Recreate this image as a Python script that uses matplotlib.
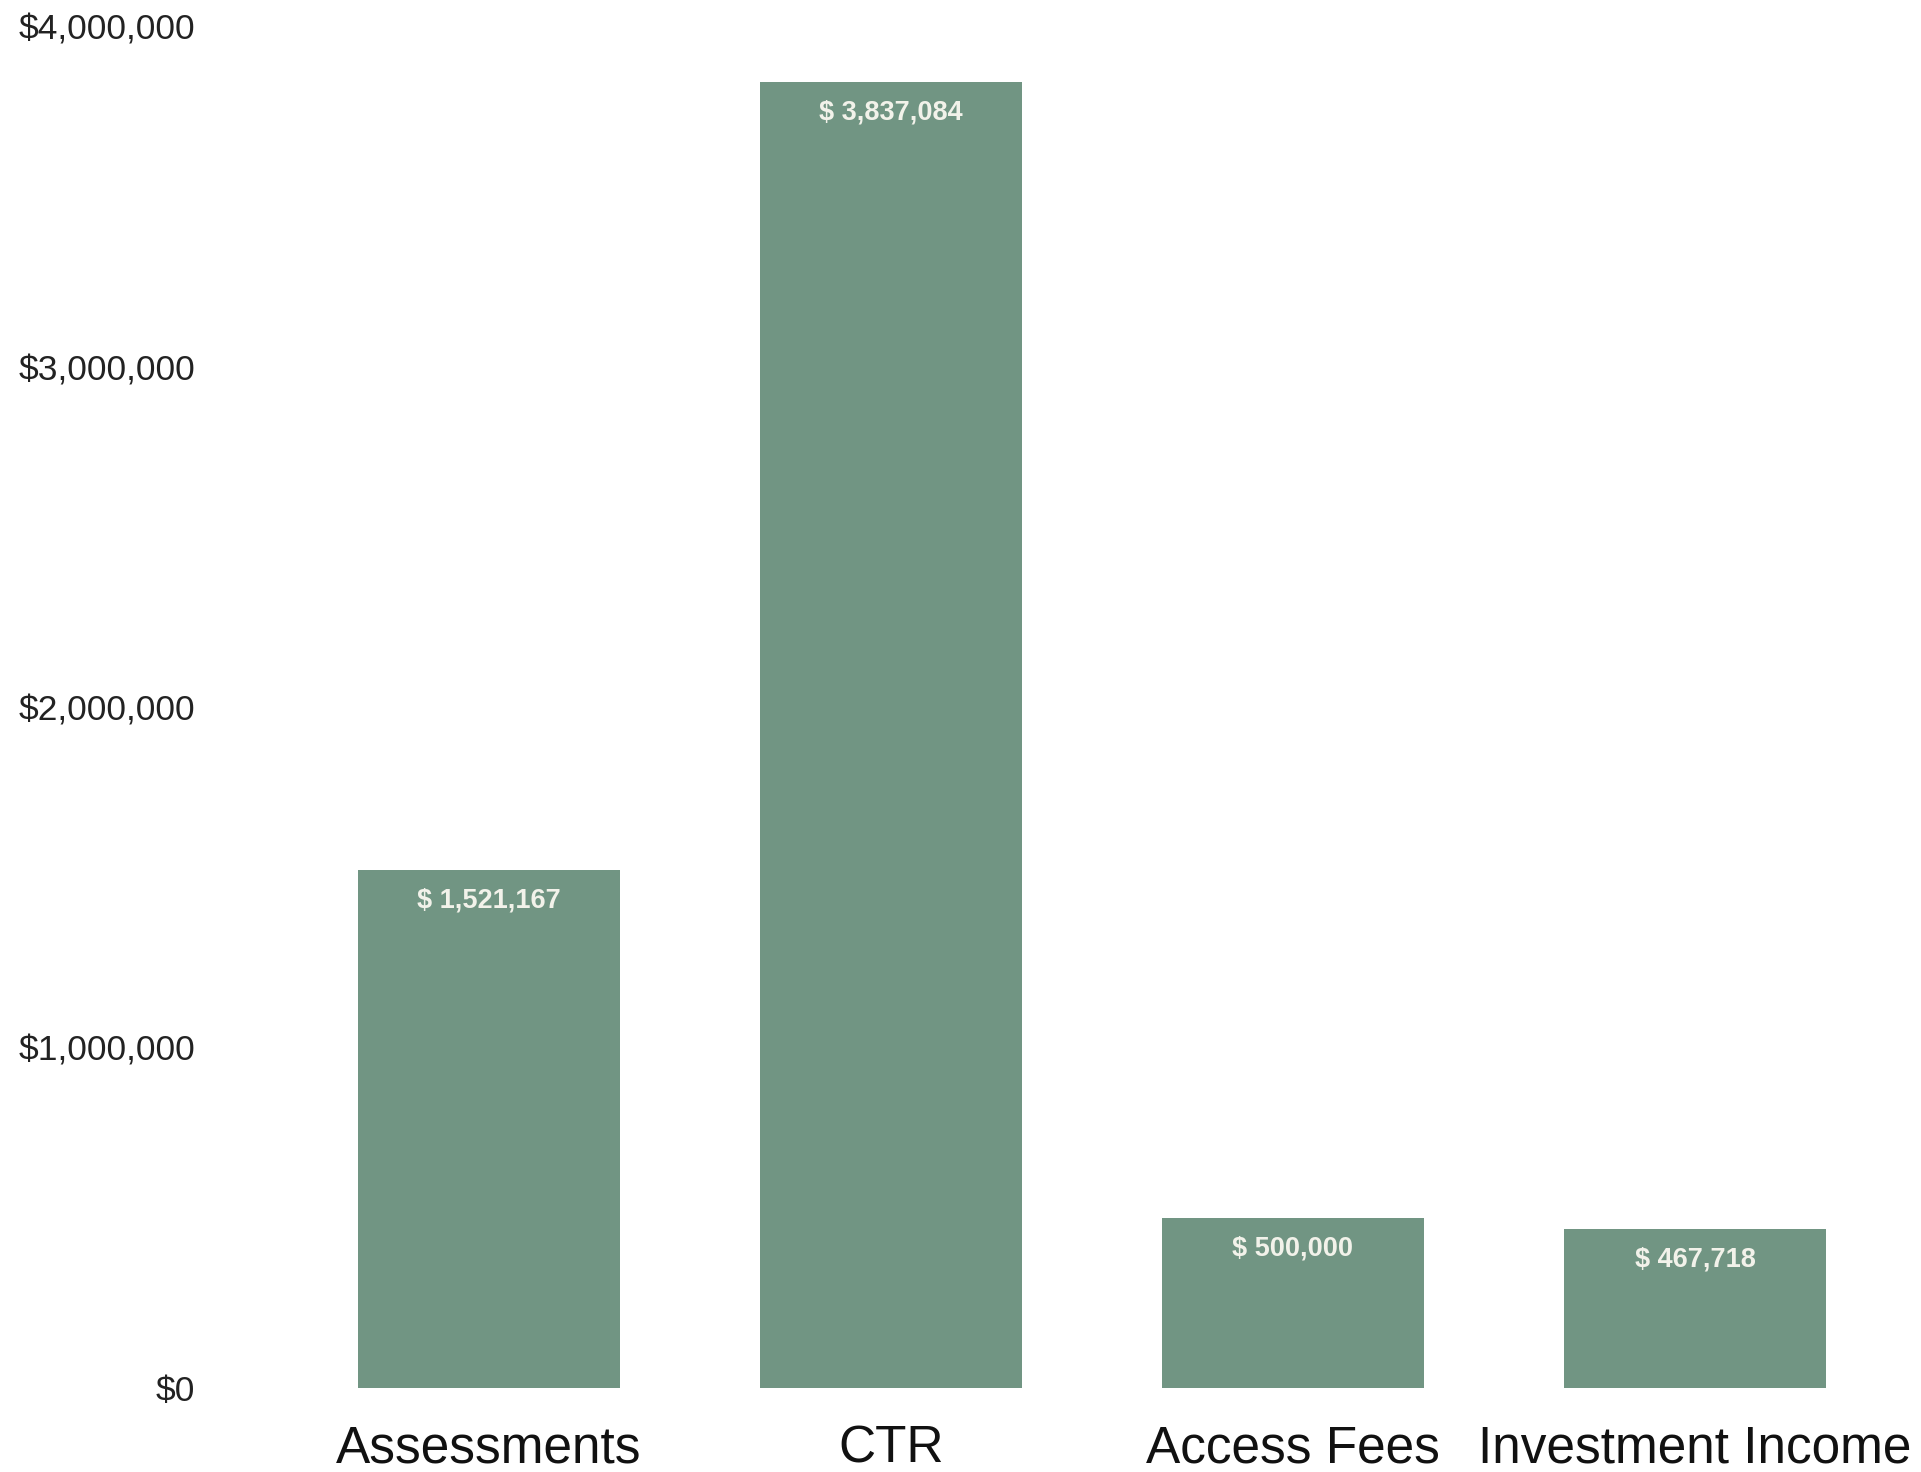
import matplotlib.pyplot as plt
from matplotlib.ticker import FuncFormatter

plt.rcParams['font.family'] = ['Liberation Sans', 'DejaVu Sans']

categories = ["Assessments", "CTR", "Access Fees", "Investment Income"]
values = [1521167, 3837084, 500000, 467718]
yticks = [0, 1000000, 2000000, 3000000, 4000000]

bar_color = "#719583"

W, H = 1921, 1472
fig = plt.figure(figsize=(W / 100, H / 100), dpi=100)
# axes placed in pixel terms: x from 220 to 1921, y from 1388 (zero) to 27 (4M)
ax = fig.add_axes([220 / W, (H - 1388) / H, (W - 220) / W, (1388 - 27) / H])

x = range(len(categories))
bars = ax.bar(x, values, width=0.65, color=bar_color)

# px per unit: 402, first center at 489
ax.set_xlim((220 - 489) / 402, (W - 489) / 402)
ax.set_ylim(0, 4000000)

for b, v in zip(bars, values):
    ax.annotate(f"$ {v:,}", (b.get_x() + b.get_width() / 2, v),
                xytext=(0, -22), textcoords="offset points",
                ha="center", va="center", color="#f2f2ea",
                fontsize=19.5, fontweight="bold")

ax.set_yticks(yticks)
ax.yaxis.set_major_formatter(FuncFormatter(lambda v, p: f"${int(v):,}"))
ax.set_xticks(list(x))
ax.set_xticklabels(categories)

ax.tick_params(axis="y", length=0, pad=18, labelsize=25.5, labelcolor="#222222")
ax.tick_params(axis="x", length=0, pad=26, labelsize=37, labelcolor="#111111")

for s in ax.spines.values():
    s.set_visible(False)

fig.savefig("out.png", dpi=100, facecolor="white")
